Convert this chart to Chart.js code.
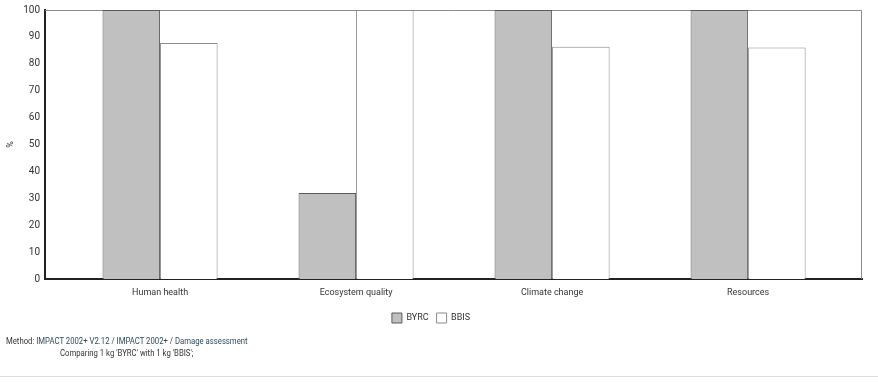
<!DOCTYPE html>
<html>
<head>
<meta charset="utf-8">
<script src="https://cdn.jsdelivr.net/npm/chart.js@4.4.1/dist/chart.umd.min.js"></script>
<style>
  html, body { margin:0; padding:0; background:#fff; }
  #wrap { position:relative; width:878px; height:386px; overflow:hidden; }
  #box { position:absolute; left:0; top:0; width:878px; height:340px; }
  .note { position:absolute; font-family:Roboto,sans-serif; font-size:9px; color:#333;
          white-space:nowrap; transform-origin:left top; transform:scaleX(0.86); }
  #rule { position:absolute; left:0; top:376px; width:878px; height:1px; background:#ddd; }
</style>
</head>
<body>
<div id="wrap">
  <div id="box"><canvas id="chart"></canvas></div>
  <div class="note" style="left:6px; top:336px;">Method: <span style="color:#2f4a5a">IMPACT 2002+ V2.12 / IMPACT 2002+ / Damage assessment</span></div>
  <div class="note" style="left:60px; top:348px;">Comparing 1 kg 'BYRC' with 1 kg 'BBIS';</div>
  <div id="rule"></div>
</div>
<script>
const CATEGORIES = ["Human health", "Ecosystem quality", "Climate change", "Resources"];
const BYRC = [100, 32, 100, 100];
const BBIS = [87.7, 100, 86.3, 86.1];
const Y_TICKS = [0, 10, 20, 30, 40, 50, 60, 70, 80, 90, 100];

const FONT = "Roboto, sans-serif";

// light frame on top / right like the original
const framePlugin = {
    id: "frame",
    beforeDatasetsDraw(chart) {
        const a = chart.chartArea;
        const c = chart.ctx;
        c.save();
        c.strokeStyle = "#8a8a8a";
        c.lineWidth = 1;
        c.beginPath();
        c.moveTo(a.left, a.top + 0.5);
        c.lineTo(a.right - 0.5, a.top + 0.5);
        c.lineTo(a.right - 0.5, a.bottom);
        c.stroke();
        c.restore();
    }
};

const toPoints = arr => arr.map((v, i) => ({ x: i, y: v }));

new Chart(document.getElementById("chart"), {
    type: "bar",
    data: {
        datasets: [
            {
                label: "BYRC",
                data: toPoints(BYRC),
                backgroundColor: "#c0c0c0",
                borderColor: "#5a5a5a",
                borderWidth: 1
            },
            {
                label: "BBIS",
                data: toPoints(BBIS),
                backgroundColor: "#ffffff",
                borderColor: "#8a8a8a",
                borderWidth: 1
            }
        ]
    },
    options: {
        responsive: true,
        maintainAspectRatio: false,
        animation: false,
        layout: { padding: { left: 0, right: 16, top: 10, bottom: 7 } },
        datasets: { bar: { categoryPercentage: 0.587, barPercentage: 1 } },
        plugins: {
            legend: {
                position: "bottom",
                labels: {
                    boxWidth: 10,
                    boxHeight: 10,
                    padding: 8,
                    color: "#333",
                    font: { family: FONT, size: 9 }
                }
            },
            tooltip: { enabled: false }
        },
        scales: {
            x: {
                type: "linear",
                offset: false,
                min: -0.587,
                max: 3.581,
                afterBuildTicks: s => { s.ticks = CATEGORIES.map((c, i) => ({ value: i })); },
                grid: { display: false, drawTicks: false },
                border: { color: "#222", width: 2 },
                ticks: {
                    color: "#333", padding: 8, maxRotation: 0,
                    font: { family: FONT, size: 9 },
                    callback: v => CATEGORIES[v]
                },
                afterFit: s => { s.height = 26; }
            },
            y: {
                min: 0,
                max: 100,
                afterBuildTicks: s => { s.ticks = Y_TICKS.map(v => ({ value: v })); },
                grid: { display: false, drawOnChartArea: false, drawTicks: true, tickLength: 3, color: "#222" },
                border: { color: "#222", width: 2 },
                ticks: { color: "#333", padding: 2, font: { family: FONT, size: 10 } },
                title: { display: true, text: "%", color: "#333", padding: { top: 5, bottom: 0 }, font: { family: FONT, size: 9 } },
                afterFit: s => { s.width = 45; }
            }
        }
    },
    plugins: [framePlugin]
});
</script>
</body>
</html>
